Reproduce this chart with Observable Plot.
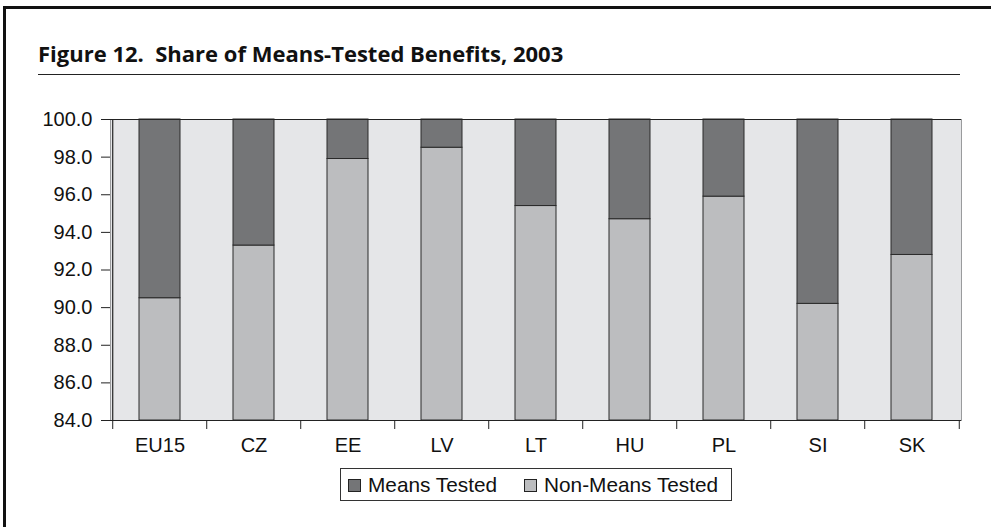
<!DOCTYPE html>
<html>
<head>
<meta charset="utf-8">
<script src="https://cdn.jsdelivr.net/npm/d3@7"></script>
<script src="https://cdn.jsdelivr.net/npm/@observablehq/plot@0.6"></script>
<style>
  html, body { margin: 0; padding: 0; background: #fff; }
  body { width: 991px; height: 527px; position: relative; overflow: hidden; }
  #frame { position: absolute; left: 3px; top: 6px; width: 1000px; height: 600px;
           border-left: 3px solid #111; border-top: 3px solid #111; }
  #title { position: absolute; left: 38px; top: 42px; font-family: "Open Sans", sans-serif;
           font-weight: 700; font-size: 22px; line-height: 22px; color: #111; white-space: pre; }
  #rule { position: absolute; left: 38px; top: 74px; width: 922px; height: 1px; background: #222; }
  #chart { position: absolute; left: 0; top: 0; }
  #legend { position: absolute; left: 340px; top: 468px; width: 390px; height: 31px;
            border: 1px solid #333; font-family: "Liberation Sans", Arial, sans-serif; font-size: 20.8px;
            color: #111; background: #fff; }
  .item { position: absolute; top: 0; height: 31px; line-height: 31px; white-space: nowrap; }
  .sw { position: absolute; top: 10px; left: 0; width: 11px; height: 11px; border: 1px solid #222; }
  .lab { position: absolute; left: 20px; top: 0; }
</style>
</head>
<body>
<div id="frame"></div>
<div id="title">Figure 12.  Share of Means-Tested Benefits, 2003</div>
<div id="rule"></div>
<div id="chart"></div>
<div id="legend"></div>
<script>
const countries = ["EU15", "CZ", "EE", "LV", "LT", "HU", "PL", "SI", "SK"];
const nonMeansTested = [90.5, 93.3, 97.9, 98.5, 95.4, 94.7, 95.9, 90.2, 92.8];
const meansTested = nonMeansTested.map(v => +(100 - v).toFixed(1));
const seriesNames = ["Non-Means Tested", "Means Tested"];
const seriesColors = ["#bcbdbf", "#747577"];
const legendOrder = ["Means Tested", "Non-Means Tested"];
const yTicks = [84, 86, 88, 90, 92, 94, 96, 98, 100];

const rows = [];
countries.forEach((c, i) => {
  rows.push({country: c, series: seriesNames[0], value: nonMeansTested[i]});
  rows.push({country: c, series: seriesNames[1], value: meansTested[i]});
});

const W = 991, ML = 110, MR = 30, MT = 119, MB = 40, H = 460;
const step = (W - ML - MR) / countries.length;

const plot = Plot.plot({
  width: W, height: H,
  marginLeft: ML, marginRight: MR, marginTop: MT, marginBottom: MB,
  style: {fontFamily: "'Liberation Sans', Arial, sans-serif", fontSize: "20px", color: "#111", background: "transparent"},
  x: {domain: countries, paddingInner: 0.565, paddingOuter: 0.2825, label: null},
  y: {domain: [84, 100], clamp: true, label: null},
  color: {domain: seriesNames, range: seriesColors},
  marks: [
    Plot.frame({fill: "#e5e6e8", stroke: "#9a9b9d"}),
    Plot.barY(rows, Plot.stackY({x: "country", y: "value", fill: "series", order: seriesNames, stroke: "#2a2a2a", strokeWidth: 1})),
    Plot.ruleY([100], {stroke: "#222", strokeWidth: 1}),
    Plot.ruleY([84], {stroke: "#222", strokeWidth: 1.2}),
    Plot.ruleX([countries[0]], {x: d => d, y1: 84, y2: 100, dx: -step / 2, stroke: "#222", strokeWidth: 1.2}),
    Plot.axisY({ticks: yTicks, tickFormat: d => d.toFixed(1), tickSize: 9, tickPadding: 9, stroke: "#222"}),
    Plot.axisX({tickSize: 0, tickPadding: 17}),
    // category boundary ticks below the axis
    Plot.ruleX(countries, {x: d => d, y1: 84, y2: 84, insetBottom: -9, dx: -step / 2, stroke: "#222"}),
    Plot.ruleX([countries[countries.length - 1]], {x: d => d, y1: 84, y2: 84, insetBottom: -9, dx: step / 2, stroke: "#222"}),
  ]
});
document.getElementById("chart").appendChild(plot);

// legend
const legend = document.getElementById("legend");
const offsets = [7, 183];
legendOrder.forEach((name, i) => {
  const item = document.createElement("div");
  item.className = "item";
  item.style.left = offsets[i] + "px";
  const sw = document.createElement("div");
  sw.className = "sw";
  sw.style.background = seriesColors[seriesNames.indexOf(name)];
  const lab = document.createElement("span");
  lab.className = "lab";
  lab.textContent = name;
  item.appendChild(sw);
  item.appendChild(lab);
  legend.appendChild(item);
});
</script>
</body>
</html>
